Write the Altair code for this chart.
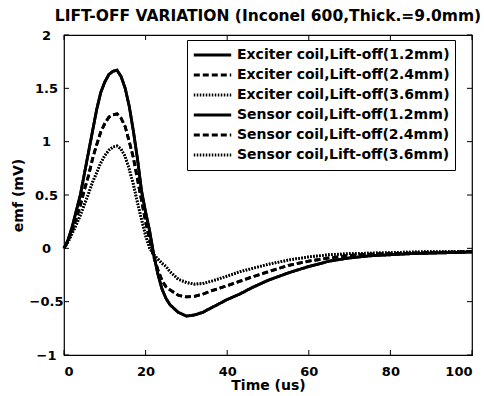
import altair as alt
import pandas as pd

t = [0, 1, 2, 3, 4, 5, 6, 7, 8, 9, 10, 11, 12, 13, 14, 15, 16, 17, 18, 19, 20,
     21, 22, 23, 24, 25, 26, 28, 30, 32, 34, 36, 38, 40, 43, 46, 50, 55, 60,
     65, 70, 75, 80, 85, 90, 95, 100]

lift_12 = [0, 0.08, 0.2, 0.35, 0.5, 0.7, 0.9, 1.1, 1.3, 1.46, 1.56, 1.63, 1.66,
           1.67, 1.61, 1.5, 1.33, 1.1, 0.84, 0.54, 0.34, 0.16, -0.06, -0.24,
           -0.38, -0.47, -0.53, -0.6, -0.635, -0.625, -0.6, -0.56, -0.52, -0.48,
           -0.43, -0.37, -0.3, -0.23, -0.17, -0.12, -0.09, -0.07, -0.06, -0.05,
           -0.045, -0.04, -0.035]

lift_24 = [0, 0.07, 0.17, 0.28, 0.4, 0.55, 0.68, 0.84, 0.97, 1.09, 1.17, 1.23,
           1.25, 1.26, 1.22, 1.14, 1.0, 0.85, 0.65, 0.45, 0.25, 0.08, -0.08,
           -0.2, -0.3, -0.36, -0.39, -0.44, -0.455, -0.45, -0.43, -0.4, -0.375,
           -0.35, -0.31, -0.27, -0.22, -0.16, -0.12, -0.09, -0.066, -0.055,
           -0.05, -0.045, -0.04, -0.035, -0.03]

lift_36 = [0, 0.06, 0.14, 0.22, 0.31, 0.41, 0.51, 0.62, 0.71, 0.8, 0.87, 0.92,
           0.95, 0.96, 0.93, 0.86, 0.74, 0.6, 0.43, 0.27, 0.12, 0.0, -0.06,
           -0.1, -0.14, -0.17, -0.22, -0.29, -0.32, -0.335, -0.33, -0.31,
           -0.285, -0.26, -0.22, -0.19, -0.15, -0.11, -0.08, -0.06, -0.05,
           -0.045, -0.04, -0.035, -0.03, -0.03, -0.03]

labels = ["Exciter coil,Lift-off(1.2mm)", "Exciter coil,Lift-off(2.4mm)",
          "Exciter coil,Lift-off(3.6mm)", "Sensor coil,Lift-off(1.2mm)",
          "Sensor coil,Lift-off(2.4mm)", "Sensor coil,Lift-off(3.6mm)"]
series = [lift_12, lift_24, lift_36, lift_12, lift_24, lift_36]

x_ticks = [0, 20, 40, 60, 80, 100]
y_ticks = [-1, -0.5, 0, 0.5, 1, 1.5, 2]

rows = []
for lab, vals in zip(labels, series):
    for ti, v in zip(t, vals):
        rows.append({"Time": ti, "emf": v, "Series": lab})
df = pd.DataFrame(rows)

W, H = 408, 320
FONT = "DejaVu Sans"

dashes = [[1, 0], [6, 3], [1.5, 1.5], [1, 0], [6, 3], [1.5, 1.5]]

xs = alt.Scale(domain=[0, 100], nice=False)
ys = alt.Scale(domain=[-1, 2], nice=False)

leg = alt.Legend(title=None, orient="none", legendX=123, legendY=5)

lines = alt.Chart(df).mark_line(strokeWidth=2.8).encode(
    x=alt.X("Time:Q", scale=xs, title="Time (us)",
            axis=alt.Axis(values=x_ticks, ticks=False, grid=False,
                          labelPadding=10, titlePadding=0)),
    y=alt.Y("emf:Q", scale=ys, title="emf (mV)",
            axis=alt.Axis(values=y_ticks, ticks=False, grid=False,
                          labelAlign="center", labelPadding=18,
                          format="~g", titlePadding=4)),
    color=alt.Color("Series:N", sort=labels,
                    scale=alt.Scale(domain=labels, range=["black"] * 6),
                    legend=leg),
    strokeDash=alt.StrokeDash("Series:N", sort=labels,
                              scale=alt.Scale(domain=labels, range=dashes),
                              legend=leg),
    order=alt.Order("Time:Q"),
)

xt = pd.DataFrame({"v": x_ticks})
yt = pd.DataFrame({"v": y_ticks})
tick_x_bottom = alt.Chart(xt).mark_rule(color="black", strokeWidth=1).encode(
    x=alt.X("v:Q", scale=xs), y=alt.value(H), y2=alt.value(H - 5))
tick_x_top = alt.Chart(xt).mark_rule(color="black", strokeWidth=1).encode(
    x=alt.X("v:Q", scale=xs), y=alt.value(0), y2=alt.value(5))
tick_y_left = alt.Chart(yt).mark_rule(color="black", strokeWidth=1).encode(
    y=alt.Y("v:Q", scale=ys), x=alt.value(0), x2=alt.value(5))
tick_y_right = alt.Chart(yt).mark_rule(color="black", strokeWidth=1).encode(
    y=alt.Y("v:Q", scale=ys), x=alt.value(W), x2=alt.value(W - 5))

chart = alt.layer(tick_x_bottom, tick_x_top, tick_y_left, tick_y_right, lines).properties(
    width=W, height=H,
    title=alt.Title("LIFT-OFF VARIATION (Inconel 600,Thick.=9.0mm)",
                    font=FONT, fontSize=15.5, fontWeight="bold", offset=5,
                    anchor="middle", color="black"),
    autosize="none",
    background="white",
    padding={"left": 64, "top": 35, "right": 12, "bottom": 41},
).configure_view(stroke="black", strokeWidth=1.2).configure_axis(
    labelFont=FONT, labelFontSize=13, labelFontWeight="bold", labelColor="black",
    titleFont=FONT, titleFontSize=14, titleFontWeight="bold", titleColor="black",
    domain=False,
).configure_legend(
    labelFont=FONT, labelFontSize=14, labelFontWeight="bold", labelColor="black",
    symbolType="stroke", symbolSize=1400, symbolStrokeWidth=2.8,
    symbolStrokeColor="black", clipHeight=20, rowPadding=0, padding=5,
    labelOffset=4, strokeColor="black", fillColor="white", labelLimit=400,
)

chart.save("out.html", embed_options={"renderer": "svg", "actions": False})
